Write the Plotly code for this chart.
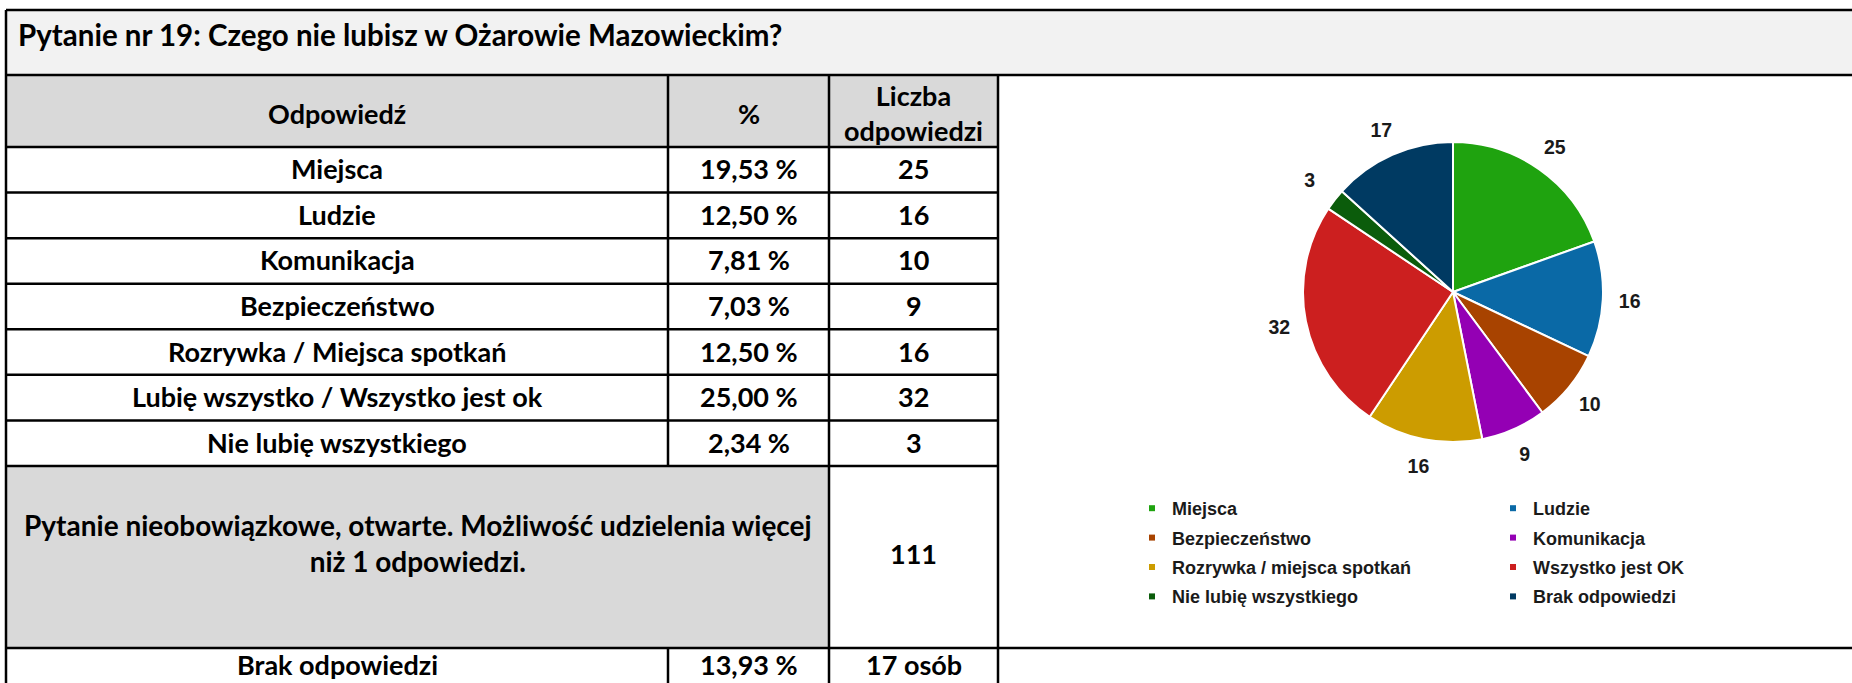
import plotly.graph_objects as go

# ---------------- data ----------------
title_text = "Pytanie nr 19: Czego nie lubisz w Ożarowie Mazowieckim?"
header_labels = ["Odpowiedź", "%", "Liczba<br>odpowiedzi"]
categories = ["Miejsca", "Ludzie", "Komunikacja", "Bezpieczeństwo",
              "Rozrywka / Miejsca spotkań", "Lubię wszystko / Wszystko jest ok",
              "Nie lubię wszystkiego"]
percent_labels = ["19,53 %", "12,50 %", "7,81 %", "7,03 %", "12,50 %", "25,00 %", "2,34 %"]
counts = [25, 16, 10, 9, 16, 32, 3]
note_text = "Pytanie nieobowiązkowe, otwarte. Możliwość udzielenia więcej<br>niż 1 odpowiedzi."
total_answers = 111
no_answer_label = "Brak odpowiedzi"
no_answer_pct = "13,93 %"
no_answer_count = "17 osób"

pie_labels = ["Miejsca", "Ludzie", "Bezpieczeństwo", "Komunikacja",
              "Rozrywka / miejsca spotkań", "Wszystko jest OK",
              "Nie lubię wszystkiego", "Brak odpowiedzi"]
pie_values = [25, 16, 10, 9, 16, 32, 3, 17]
pie_colors = ["#1fa30f", "#0a69a6", "#a84300", "#9400b4",
              "#cc9c00", "#cc1f1f", "#0b5c0b", "#003a62"]

# ---------------- layout geometry (pixels) ----------------
W, H = 1852, 683
XL, XC1, XC2, XC3, XR = 6, 668, 829, 998, 1852
Y_TOP, Y_TITLE, Y_HEAD = 10, 75, 147
ROW_H = (466 - Y_HEAD) / len(categories)
row_edges = [Y_HEAD + i * ROW_H for i in range(len(categories) + 1)]
Y_NOTE = 648
Y_FOOT = 700
col_centers = [(XL + XC1) / 2, (XC1 + XC2) / 2, (XC2 + XC3) / 2]

TABLE_FONT = dict(family="Lato", size=27, color="#000000", weight="bold")
NOTE_FONT = dict(family="Lato", size=28, color="#000000", weight="bold")
LINE = dict(color="#000000", width=2.5)

fig = go.Figure()

shapes = []
# backgrounds
shapes.append(dict(type="rect", x0=XL, x1=XR, y0=Y_TOP, y1=Y_TITLE,
                   fillcolor="#f2f2f2", line=dict(width=0), layer="below"))
shapes.append(dict(type="rect", x0=XL, x1=XC3, y0=Y_TITLE, y1=Y_HEAD,
                   fillcolor="#d9d9d9", line=dict(width=0), layer="below"))
shapes.append(dict(type="rect", x0=XL, x1=XC2, y0=row_edges[-1], y1=Y_NOTE,
                   fillcolor="#d9d9d9", line=dict(width=0), layer="below"))
# horizontal lines
for y, x1 in [(Y_TOP, XR), (Y_TITLE, XR), (Y_NOTE, XR)]:
    shapes.append(dict(type="line", x0=XL, x1=x1, y0=y, y1=y, line=LINE))
for y in row_edges:
    shapes.append(dict(type="line", x0=XL, x1=XC3, y0=y, y1=y, line=LINE))
# vertical lines
shapes.append(dict(type="line", x0=XL, x1=XL, y0=Y_TOP, y1=Y_FOOT, line=LINE))
shapes.append(dict(type="line", x0=XC1, x1=XC1, y0=Y_TITLE, y1=row_edges[-1], line=LINE))
shapes.append(dict(type="line", x0=XC1, x1=XC1, y0=Y_NOTE, y1=Y_FOOT, line=LINE))
for x in (XC2, XC3):
    shapes.append(dict(type="line", x0=x, x1=x, y0=Y_TITLE, y1=Y_FOOT, line=LINE))

ann = []
ann.append(dict(x=16, y=34, text=title_text, xanchor="left", yanchor="middle",
                font=dict(family="Lato", size=29.5, color="#000000", weight="bold")))
for cx, lab in zip(col_centers, header_labels):
    ann.append(dict(x=cx, y=(Y_TITLE + Y_HEAD) / 2 + 2, text=lab, font=TABLE_FONT))
for i, (cat, pct, cnt) in enumerate(zip(categories, percent_labels, counts)):
    yc = (row_edges[i] + row_edges[i + 1]) / 2 - 1
    for cx, t in zip(col_centers, [cat, pct, str(cnt)]):
        ann.append(dict(x=cx, y=yc, text=t, font=TABLE_FONT))
note_c = (row_edges[-1] + Y_NOTE) / 2
ann.append(dict(x=(XL + XC2) / 2, y=note_c - 14, text=note_text, font=NOTE_FONT))
ann.append(dict(x=col_centers[2], y=note_c - 4, text=str(total_answers), font=TABLE_FONT))
for cx, t in zip(col_centers, [no_answer_label, no_answer_pct, no_answer_count]):
    ann.append(dict(x=cx, y=664, text=t, font=TABLE_FONT))
for a in ann:
    a.update(xref="x", yref="y", showarrow=False)
    a.setdefault("xanchor", "center")
    a.setdefault("yanchor", "middle")

# ---------------- pie ----------------
PCX, PCY, PR = 1453, 292, 150
RING_R = 195


def dom(r):
    return dict(x=[(PCX - r) / W, (PCX + r) / W],
                y=[(H - PCY - r) / H, (H - PCY + r) / H])


fig.add_trace(go.Pie(labels=pie_labels, values=pie_values, sort=False,
                     direction="clockwise", rotation=0,
                     marker=dict(colors=pie_colors, line=dict(color="white", width=2)),
                     textinfo="none", showlegend=False, domain=dom(PR),
                     hoverinfo="label+value"))
# outer transparent ring carrying the value labels
fig.add_trace(go.Pie(labels=pie_labels, values=pie_values, sort=False,
                     direction="clockwise", rotation=0, hole=0.815,
                     marker=dict(colors=["rgba(0,0,0,0)"] * len(pie_values),
                                 line=dict(width=0)),
                     textinfo="value", textposition="inside",
                     insidetextorientation="horizontal",
                     insidetextfont=dict(family="Liberation Sans", size=19.5,
                                         color="#1a1a1a", weight="bold"),
                     showlegend=False, domain=dom(RING_R), hoverinfo="skip"))

# legend entries (two columns)
for i, (lab, col) in enumerate(zip(pie_labels, pie_colors)):
    fig.add_trace(go.Scatter(x=[None], y=[None], mode="markers", name=lab,
                             marker=dict(symbol="square", size=6, color=col),
                             legend="legend" if i % 2 == 0 else "legend2",
                             legendgroup=lab, showlegend=True, hoverinfo="skip"))

LEG_FONT = dict(family="Liberation Sans", size=18, color="#1a1a1a", weight="bold")
leg_common = dict(orientation="v", yanchor="top", xanchor="left",
                  y=(H - 490) / H, font=LEG_FONT, bgcolor="rgba(0,0,0,0)",
                  tracegroupgap=3, traceorder="grouped", itemclick=False,
                  itemdoubleclick=False)

fig.update_layout(
    width=W, height=H,
    margin=dict(l=0, r=0, t=0, b=0, autoexpand=False),
    paper_bgcolor="white", plot_bgcolor="white",
    xaxis=dict(range=[0, W], visible=False, fixedrange=True, domain=[0, 1]),
    yaxis=dict(range=[H, 0], visible=False, fixedrange=True, domain=[0, 1]),
    shapes=shapes, annotations=ann,
    legend=dict(x=1132 / W, **leg_common),
    legend2=dict(x=1493 / W, **leg_common),
    showlegend=True,
)

# remove the default 8px page margin so the figure fills the window exactly
fig.write_html("out.html", config={"displayModeBar": False},
               post_script="document.body.style.margin='0px';")
